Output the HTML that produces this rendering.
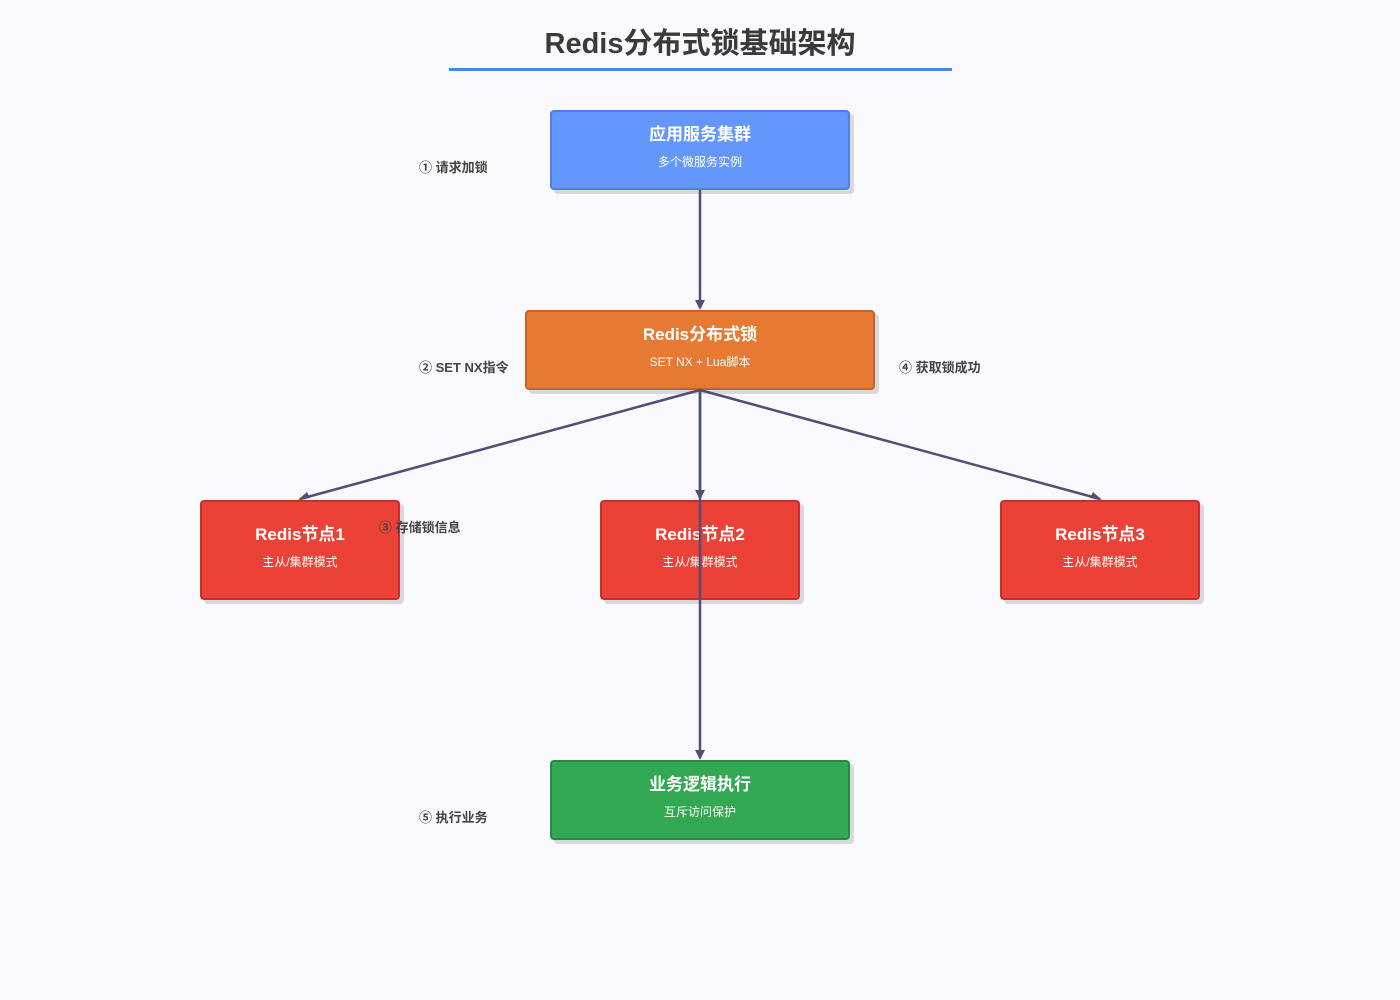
<!DOCTYPE html>
<html><head><meta charset="utf-8"><style>
body{margin:0;width:1400px;height:1000px;background:#f9f9fe;position:relative;overflow:hidden;font-family:"Liberation Sans","Noto Sans CJK SC",sans-serif}
.t{position:absolute;left:0;width:1400px;top:20px;text-align:center;font-size:29px;font-weight:bold;color:#3a3a3a}
.u{position:absolute;left:449px;width:503px;top:68px;height:3px;background:#4a86e8}
.b{position:absolute;box-sizing:border-box;border:2px solid;border-radius:4px;box-shadow:4px 4px 0 rgba(0,0,0,0.13);color:#fff;text-align:center}
.b h{display:block;font-weight:bold;font-size:17px}
.b s{display:block;text-decoration:none;font-size:12px;margin-top:8px}
.l{position:absolute;font-size:13px;font-weight:bold;color:#444}
svg{position:absolute;left:0;top:0}
</style></head><body>
<div class="t">Redis分布式锁基础架构</div><div class="u"></div>
<div class="b" style="left:550px;top:110px;width:300px;height:80px;background:#6497fb;border-color:#4f7fe0;padding-top:8px"><h>应用服务集群</h><s>多个微服务实例</s></div>
<div class="b" style="left:525px;top:310px;width:350px;height:80px;background:#e67a32;border-color:#c9622a;padding-top:8px"><h>Redis分布式锁</h><s>SET NX + Lua脚本</s></div>
<div class="b" style="left:200px;top:500px;width:200px;height:100px;background:#eb4136;border-color:#c33229;padding-top:18px"><h>Redis节点1</h><s>主从/集群模式</s></div>
<div class="b" style="left:600px;top:500px;width:200px;height:100px;background:#eb4136;border-color:#c33229;padding-top:18px"><h>Redis节点2</h><s>主从/集群模式</s></div>
<div class="b" style="left:1000px;top:500px;width:200px;height:100px;background:#eb4136;border-color:#c33229;padding-top:18px"><h>Redis节点3</h><s>主从/集群模式</s></div>
<div class="b" style="left:550px;top:760px;width:300px;height:80px;background:#33a853;border-color:#268a40;padding-top:8px"><h>业务逻辑执行</h><s>互斥访问保护</s></div>
<svg width="1400" height="1000">
<g stroke="#4e4e78" stroke-width="2.5" fill="none">
<line x1="700" y1="190" x2="700" y2="308"/>
<line x1="700" y1="390" x2="700" y2="498"/>
<line x1="700" y1="390" x2="300" y2="499"/>
<line x1="700" y1="390" x2="1100" y2="499"/>
<line x1="700" y1="390" x2="700" y2="758"/>
</g>
<g fill="#4e4e78">
<polygon points="695,300 705,300 700,310"/>
<polygon points="695,490 705,490 700,500"/>
<polygon points="695,750 705,750 700,760"/>
<polygon points="298,500 307,492 310,498"/>
<polygon points="1102,500 1093,492 1090,498"/>
</g>
</svg>
<div class="l" style="left:419px;top:157px">① 请求加锁</div>
<div class="l" style="left:419px;top:357px">② SET NX指令</div>
<div class="l" style="left:379px;top:517px">③ 存储锁信息</div>
<div class="l" style="left:899px;top:357px">④ 获取锁成功</div>
<div class="l" style="left:419px;top:807px">⑤ 执行业务</div>
</body></html>
